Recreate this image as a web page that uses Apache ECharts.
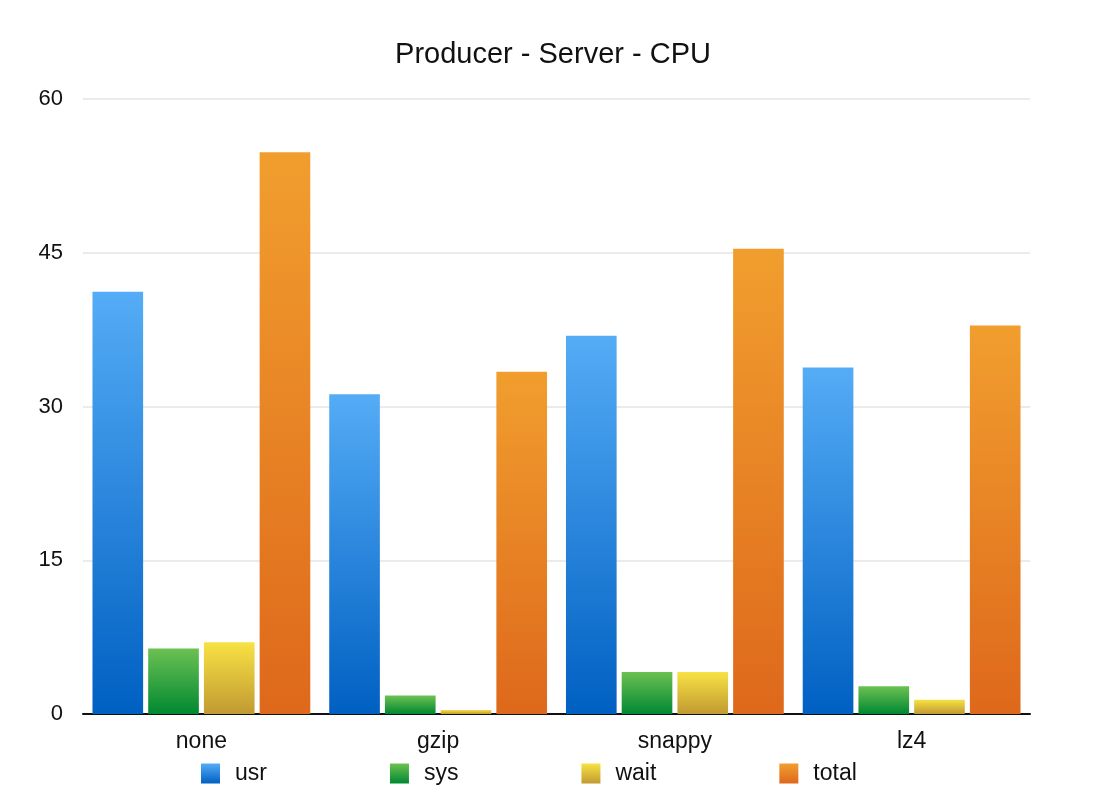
<!DOCTYPE html>
<html>
<head>
<meta charset="utf-8">
<script src="https://cdn.jsdelivr.net/npm/echarts@6/dist/echarts.min.js"></script>
<style>
  html, body { margin: 0; padding: 0; background: #fff; }
  #chart { width: 1106px; height: 808px; }
</style>
</head>
<body>
<div id="chart"></div>
<script>
const categories = ['none', 'gzip', 'snappy', 'lz4']
const usr = [41.2, 31.2, 36.9, 33.8]
const sys = [6.4, 1.8, 4.1, 2.7]
const wait = [7.0, 0.4, 4.1, 1.4]
const total = [54.8, 33.4, 45.4, 37.9]
const yTicks = [0, 15, 30, 45, 60]

// top -> bottom colours of each bar
const grads = {
  usr: ['#55acf6', '#0060c2'],
  sys: ['#6cc152', '#008832'],
  wait: ['#f8e244', '#c19a32'],
  total: ['#f19e2e', '#de681b']
}

function grad (c) {
  return new echarts.graphic.LinearGradient(0, 0, 0, 1, [
    { offset: 0, color: c[0] },
    { offset: 1, color: c[1] }
  ])
}

function bar (name, data) {
  return {
    name: name,
    type: 'bar',
    data: data,
    barGap: '10%',
    barCategoryGap: '8%',
    itemStyle: { color: grad(grads[name]) }
  }
}

const chart = echarts.init(document.getElementById('chart'))
chart.setOption({
  animation: false,
  textStyle: { fontFamily: 'Liberation Sans, Arial, sans-serif' },
  title: {
    text: 'Producer - Server - CPU',
    left: 'center',
    top: 35,
    textStyle: { fontSize: 29, fontWeight: 'normal', color: '#111' }
  },
  legend: {
    data: ['usr', 'sys', 'wait', 'total'],
    left: 196,
    top: 757,
    itemWidth: 19,
    itemHeight: 20,
    itemGap: 123,
    icon: 'rect',
    textStyle: { fontSize: 23, color: '#111', padding: [0, 0, 0, 10] }
  },
  grid: { left: 83, right: 76, top: 99, bottom: 94 },
  xAxis: {
    type: 'category',
    data: categories,
    axisTick: { show: false },
    axisLine: { lineStyle: { color: '#111', width: 2 } },
    axisLabel: { fontSize: 23, color: '#111', margin: 16 }
  },
  yAxis: {
    type: 'value',
    min: yTicks[0],
    max: yTicks[yTicks.length - 1],
    interval: 15,
    axisLine: { show: false },
    axisTick: { show: false },
    splitLine: { lineStyle: { color: '#e4e4e4', width: 1.5 } },
    axisLabel: { fontSize: 22, color: '#111', margin: 20 }
  },
  series: [
    bar('usr', usr),
    bar('sys', sys),
    bar('wait', wait),
    bar('total', total)
  ]
})
</script>
</body>
</html>
